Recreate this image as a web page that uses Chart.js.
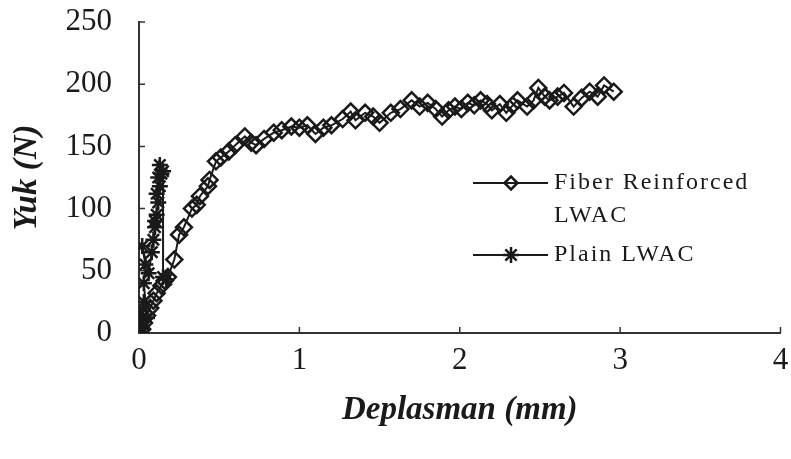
<!DOCTYPE html>
<html>
<head>
<meta charset="utf-8">
<script src="https://cdn.jsdelivr.net/npm/chart.js@4/dist/chart.umd.min.js"></script>
<style>
  html, body { margin: 0; padding: 0; background: #fff; }
  #wrap { width: 791px; height: 459px; }
</style>
</head>
<body>
<div id="wrap"><canvas id="chartYuk" width="791" height="459"></canvas></div>
<script>
// axis ticks
const xTicks = [0, 1, 2, 3, 4];
const yTicks = [0, 50, 100, 150, 200, 250];

// Fiber Reinforced LWAC (deplasman mm, yuk N)
const fiberX = [0, 0.02, 0.03, 0.05, 0.07, 0.09, 0.11, 0.14, 0.16, 0.18, 0.22, 0.25, 0.28, 0.33, 0.36, 0.38, 0.43, 0.44, 0.48, 0.51,
    0.56, 0.60, 0.66, 0.70, 0.73, 0.78, 0.84, 0.89, 0.95, 1.00, 1.05, 1.10, 1.15, 1.20, 1.27, 1.32, 1.35, 1.41, 1.46, 1.50,
    1.57, 1.63, 1.70, 1.75, 1.80, 1.85, 1.89, 1.93, 1.97, 2.01, 2.05, 2.09, 2.13, 2.17, 2.20, 2.25, 2.29, 2.33, 2.36, 2.42,
    2.46, 2.49, 2.53, 2.56, 2.61, 2.65, 2.71, 2.76, 2.81, 2.86, 2.90, 2.96];
const fiberY = [0, 3, 8, 14, 20, 26, 32, 38, 42, 45, 59, 79, 85, 100, 103, 110, 118, 123, 138, 141,
    146, 151, 158, 153, 151, 156, 161, 163, 166, 165, 167, 160, 165, 167, 172, 178, 171, 177, 174, 169,
    177, 180, 187, 182, 185, 180, 174, 179, 182, 180, 185, 183, 187, 184, 179, 184, 177, 183, 187, 182,
    187, 197, 190, 187, 190, 193, 182, 189, 194, 190, 199, 194];

// Plain LWAC
const plainX = [0, 0.01, 0.02, 0.01, 0.03, 0.05, 0.03, 0.04, 0.02, 0.06, 0.08, 0.09, 0.10, 0.11, 0.10, 0.12, 0.11, 0.13, 0.12, 0.14, 0.13, 0.15, 0.15, 0.17];
const plainY = [0, 8, 3, 15, 25, 12, 40, 55, 70, 48, 65, 75, 85, 95, 90, 105, 112, 118, 125, 128, 135, 130, 45, 43];

const serif = '"Liberation Serif", "Times New Roman", serif';
const ink = '#1a1a1a';

function toPoints(xs, ys) {
    return xs.map((x, i) => ({ x: x, y: ys[i] }));
}

// ticks drawn on the inside of the axes
const insideTicks = {
    id: 'insideTicks',
    afterDraw(chart) {
        const ctx = chart.ctx;
        const xs = chart.scales.x, ys = chart.scales.y;
        ctx.save();
        ctx.strokeStyle = '#333';
        ctx.lineWidth = 1.5;
        ctx.beginPath();
        xTicks.forEach(v => {
            if (v === 0) return;
            const px = xs.getPixelForValue(v);
            ctx.moveTo(px, ys.bottom);
            ctx.lineTo(px, ys.bottom - 6);
        });
        yTicks.forEach(v => {
            if (v === 0) return;
            const py = ys.getPixelForValue(v);
            ctx.moveTo(xs.left, py);
            ctx.lineTo(xs.left + 6, py);
        });
        ctx.stroke();
        ctx.restore();
    }
};

// legend inside the plot
const legendBox = {
    id: 'legendBox',
    afterDraw(chart) {
        const ctx = chart.ctx;
        const items = [
            { lines: ['Fiber Reinforced', 'LWAC'], y: 183, style: 'rectRot', r: 6.5 },
            { lines: ['Plain LWAC'], y: 255, style: 'star', r: 8 }
        ];
        ctx.save();
        items.forEach(it => {
            ctx.strokeStyle = ink;
            ctx.lineWidth = 2.2;
            ctx.beginPath();
            ctx.moveTo(473, it.y);
            ctx.lineTo(548, it.y);
            ctx.stroke();
            ctx.fillStyle = 'rgba(0,0,0,0)';
            ctx.lineWidth = 2.5;
            Chart.helpers.drawPoint(ctx, { pointStyle: it.style, radius: it.r, rotation: 0, borderWidth: 2.5 }, 511, it.y);
            ctx.fillStyle = ink;
            ctx.font = '24px ' + serif;
            if ('letterSpacing' in ctx) ctx.letterSpacing = '2px';
            ctx.textBaseline = 'middle';
            ctx.textAlign = 'left';
            it.lines.forEach((t, i) => ctx.fillText(t, 554, it.y + i * 33));
        });
        ctx.restore();
    }
};

new Chart(document.getElementById('chartYuk').getContext('2d'), {
    type: 'scatter',
    data: {
        datasets: [{
            label: 'Fiber Reinforced LWAC',
            data: toPoints(fiberX, fiberY),
            showLine: true,
            borderColor: ink,
            borderWidth: 2,
            backgroundColor: 'rgba(0,0,0,0)',
            pointStyle: 'rectRot',
            pointRadius: 8,
            pointBorderWidth: 2.5,
            pointBorderColor: ink,
            pointBackgroundColor: 'rgba(0,0,0,0)',
            tension: 0
        }, {
            label: 'Plain LWAC',
            data: toPoints(plainX, plainY),
            showLine: true,
            borderColor: ink,
            borderWidth: 2,
            pointStyle: 'star',
            pointRadius: 8,
            pointBorderWidth: 2.5,
            pointBorderColor: ink,
            tension: 0
        }]
    },
    options: {
        responsive: false,
        animation: false,
        layout: { padding: { top: 22, right: 5, left: 0, bottom: 0 } },
        plugins: {
            legend: { display: false },
            tooltip: { enabled: false }
        },
        scales: {
            x: {
                type: 'linear',
                min: 0, max: 4,
                afterBuildTicks: s => { s.ticks = xTicks.map(v => ({ value: v })); },
                afterFit: s => { s.height = 126; s.paddingLeft = 0; s.paddingRight = 0; },
                grid: { display: true, drawOnChartArea: false, drawTicks: false },
                border: { display: true, color: '#333', width: 2 },
                ticks: { padding: 9, color: ink, font: { family: serif, size: 31 } },
                title: {
                    display: true,
                    text: 'Deplasman (mm)',
                    color: ink,
                    font: { family: serif, size: 33, weight: 'bold', style: 'italic' },
                    padding: { top: 0, bottom: 29 }
                }
            },
            y: {
                type: 'linear',
                min: 0, max: 250,
                afterBuildTicks: s => { s.ticks = yTicks.map(v => ({ value: v })); },
                afterFit: s => { s.width = 139; s.paddingTop = 0; s.paddingBottom = 0; },
                grid: { display: true, drawOnChartArea: false, drawTicks: false },
                border: { display: true, color: '#333', width: 2 },
                ticks: { padding: 27, color: ink, font: { family: serif, size: 31 } },
                title: {
                    display: true,
                    text: 'Yuk (N)',
                    color: ink,
                    font: { family: serif, size: 33, weight: 'bold', style: 'italic' },
                    padding: { top: 8, bottom: 0 }
                }
            }
        }
    },
    plugins: [insideTicks, legendBox]
});
</script>
</body>
</html>
